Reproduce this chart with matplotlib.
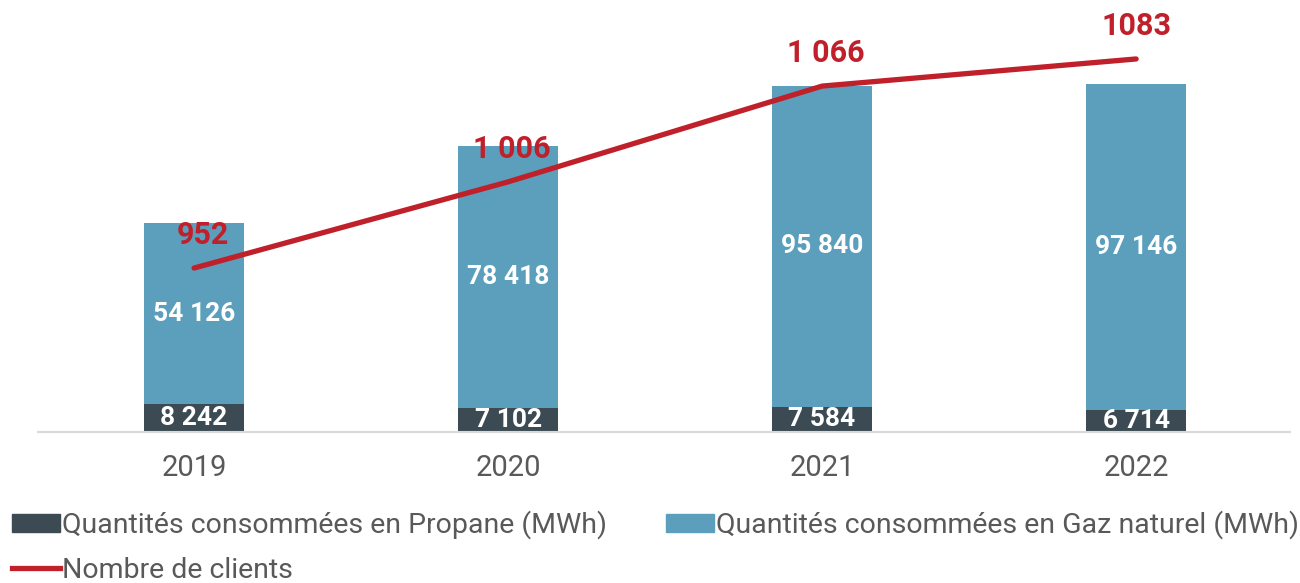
import matplotlib
matplotlib.use("Agg")
import matplotlib.pyplot as plt
from matplotlib.patches import Patch
from matplotlib.lines import Line2D

years = ["2019", "2020", "2021", "2022"]
propane = [8242, 7102, 7584, 6714]
gaz = [54126, 78418, 95840, 97146]
clients = [952, 1006, 1066, 1083]
client_labels = ["952", "1 006", "1 066", "1083"]

def fmt(v):
    return f"{v:,}".replace(",", " ")

plt.rcParams['font.family'] = ['Roboto', 'DejaVu Sans']

C_PROP = "#3C4A53"
C_GAZ = "#5B9FBD"
C_LINE = "#C0202A"
C_TXT = "#595959"

fig = plt.figure(figsize=(13, 5.83), dpi=100)
W, H = 1300, 583
ax = fig.add_axes([38 / W, (H - 432) / H, 1252 / W, 412 / H])
x = list(range(len(years)))
bw = 0.318
ax.bar(x, propane, width=bw, color=C_PROP, zorder=2)
ax.bar(x, gaz, width=bw, bottom=propane, color=C_GAZ, zorder=2)
ax.set_xlim(-0.497, 3.49)
ax.set_ylim(0, 123000)
for xi, p, g in zip(x, propane, gaz):
    ax.text(xi, p / 2, fmt(p), ha="center", va="center", color="white",
            fontsize=19, fontweight="bold", zorder=3)
    ax.text(xi, p + g / 2, fmt(g), ha="center", va="center", color="white",
            fontsize=19, fontweight="bold", zorder=3)

for s in ["top", "right", "left"]:
    ax.spines[s].set_visible(False)
ax.spines["bottom"].set_color("#D9D9D9")
ax.spines["bottom"].set_linewidth(1.5)
ax.set_yticks([])
ax.set_xticks(x)
ax.set_xticklabels(years, fontsize=21, color=C_TXT)
ax.tick_params(axis="x", length=0, pad=16)

ax2 = ax.twinx()
ax2.set_ylim(849.3, 1107.4)
ax2.plot(x, clients, color=C_LINE, lw=3.8, solid_capstyle="round", zorder=4)
offsets = [9, 4, 4, 0]
for xi, c, lab, dx in zip(x, clients, client_labels, offsets):
    ax2.annotate(lab, (xi, c), xytext=(dx, 33), textcoords="offset pixels",
                 ha="center", va="center", color=C_LINE, fontsize=22, fontweight="bold")
ax2.set_yticks([])
for s in ["top", "right", "left", "bottom"]:
    ax2.spines[s].set_visible(False)

handles = [Patch(color=C_PROP), Line2D([], [], color=C_LINE, lw=3.8),
           Patch(color=C_GAZ)]
labels = ["Quantités consommées en Propane (MWh)", "Nombre de clients",
          "Quantités consommées en Gaz naturel (MWh)"]
fig.legend(handles, labels, loc="upper left", bbox_to_anchor=(12 / W, 0.124),
           ncol=2, frameon=False, fontsize=20.5, labelcolor=C_TXT,
           handlelength=1.7, handleheight=0.55, handletextpad=0.07,
           columnspacing=2.05, borderaxespad=0, borderpad=0, labelspacing=0.6)

fig.savefig("out.png", dpi=100)
